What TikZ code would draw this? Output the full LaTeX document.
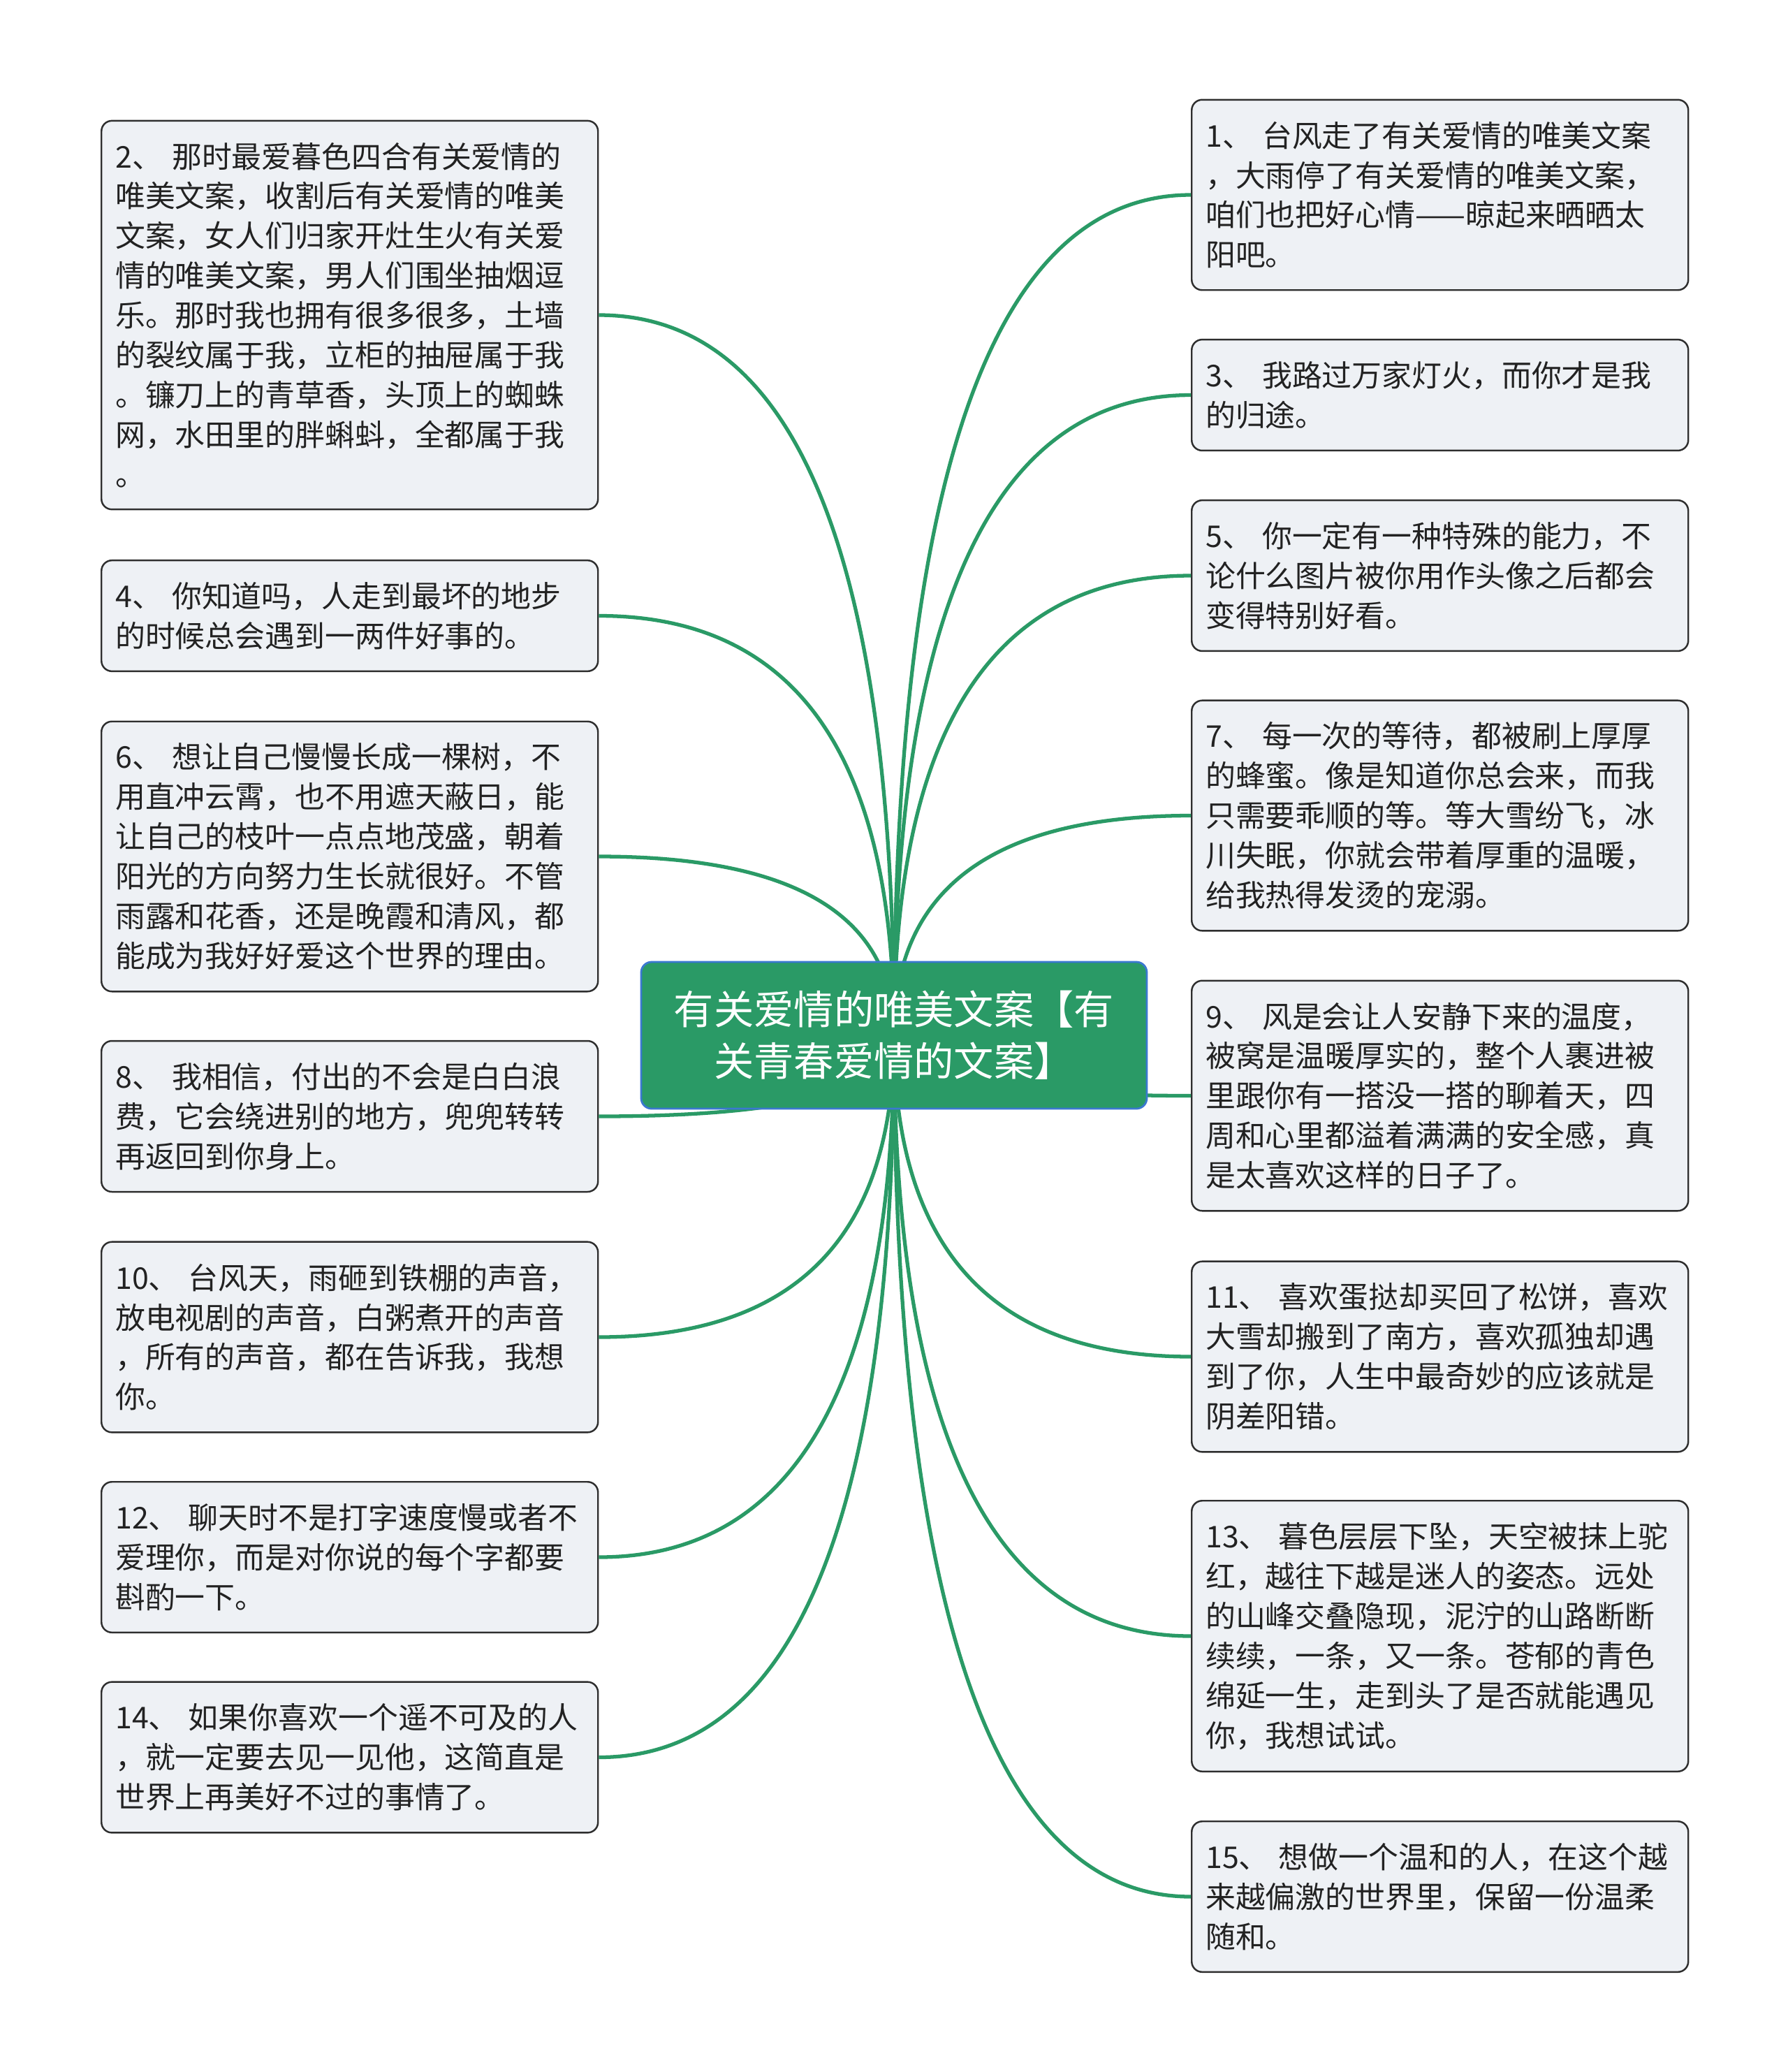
\documentclass[tikz,border=0pt]{standalone}
\usepackage{fontspec}
\setmainfont{Noto Sans CJK SC}
\usepackage{tikz}
\usetikzlibrary{calc}

\definecolor{branchgreen}{HTML}{2A9A66}
\definecolor{rootblue}{HTML}{3A78D0}
\definecolor{leafbg}{HTML}{EEF1F5}
\definecolor{leafline}{HTML}{2E2E2E}
\definecolor{textgray}{HTML}{222222}

\begin{document}
\begin{tikzpicture}[
root/.style={draw=rootblue,fill=branchgreen,line width=0.8pt,rounded corners=0.15cm,text=white,align=center,text width=6.5cm,minimum width=7.24cm,minimum height=2.1cm,font=\fontsize{16.3pt}{21pt}\selectfont},
leaf/.style={draw=leafline,fill=leafbg,line width=0.7pt,rounded corners=0.15cm,text=textgray,align=left,text width=6.71cm,inner xsep=0.2cm,inner ysep=0.31cm,anchor=west,font=\fontsize{12.2pt}{16.2pt}\selectfont},
branch/.style={draw=branchgreen,line width=1.5pt,to path={.. controls ($(\tikztostart)!2/3!(\tikztostart |- \tikztotarget)$) and ($(\tikztotarget)!2/3!(\tikztostart |- \tikztotarget)$) .. (\tikztotarget)}}
]
\useasboundingbox (0,0) rectangle (25.6,-29.66);

\node[leaf](n2) at (1.44,-4.51) {2、 那时最爱暮色四合有关爱情的\\唯美文案，收割后有关爱情的唯美\\文案，女人们归家开灶生火有关爱\\情的唯美文案，男人们围坐抽烟逗\\乐。那时我也拥有很多很多，土墙\\的裂纹属于我，立柜的抽屉属于我\\。镰刀上的青草香，头顶上的蜘蛛\\网，水田里的胖蝌蚪，全都属于我\\。};

\node[leaf](n4) at (1.44,-8.815) {4、 你知道吗，人走到最坏的地步\\的时候总会遇到一两件好事的。};

\node[leaf](n6) at (1.44,-12.26) {6、 想让自己慢慢长成一棵树，不\\用直冲云霄，也不用遮天蔽日，能\\让自己的枝叶一点点地茂盛，朝着\\阳光的方向努力生长就很好。不管\\雨露和花香，还是晚霞和清风，都\\能成为我好好爱这个世界的理由。};

\node[leaf](n8) at (1.44,-15.98) {8、 我相信，付出的不会是白白浪\\费，它会绕进别的地方，兜兜转转\\再返回到你身上。};

\node[leaf](n10) at (1.44,-19.14) {10、 台风天，雨砸到铁棚的声音，\\放电视剧的声音，白粥煮开的声音\\，所有的声音，都在告诉我，我想\\你。};

\node[leaf](n12) at (1.44,-22.29) {12、 聊天时不是打字速度慢或者不\\爱理你，而是对你说的每个字都要\\斟酌一下。};

\node[leaf](n14) at (1.44,-25.155) {14、 如果你喜欢一个遥不可及的人\\，就一定要去见一见他，这简直是\\世界上再美好不过的事情了。};

\node[leaf](n1) at (17.05,-2.79) {1、 台风走了有关爱情的唯美文案\\，大雨停了有关爱情的唯美文案，\\咱们也把好心情——晾起来晒晒太\\阳吧。};

\node[leaf](n3) at (17.05,-5.655) {3、 我路过万家灯火，而你才是我\\的归途。};

\node[leaf](n5) at (17.05,-8.24) {5、 你一定有一种特殊的能力，不\\论什么图片被你用作头像之后都会\\变得特别好看。};

\node[leaf](n7) at (17.05,-11.675) {7、 每一次的等待，都被刷上厚厚\\的蜂蜜。像是知道你总会来，而我\\只需要乖顺的等。等大雪纷飞，冰\\川失眠，你就会带着厚重的温暖，\\给我热得发烫的宠溺。};

\node[leaf](n9) at (17.05,-15.685) {9、 风是会让人安静下来的温度，\\被窝是温暖厚实的，整个人裹进被\\里跟你有一搭没一搭的聊着天，四\\周和心里都溢着满满的安全感，真\\是太喜欢这样的日子了。};

\node[leaf](n11) at (17.05,-19.42) {11、 喜欢蛋挞却买回了松饼，喜欢\\大雪却搬到了南方，喜欢孤独却遇\\到了你，人生中最奇妙的应该就是\\阴差阳错。};

\node[leaf](n13) at (17.05,-23.42) {13、 暮色层层下坠，天空被抹上驼\\红，越往下越是迷人的姿态。远处\\的山峰交叠隐现，泥泞的山路断断\\续续，一条，又一条。苍郁的青色\\绵延一生，走到头了是否就能遇见\\你，我想试试。};

\node[leaf](n15) at (17.05,-27.15) {15、 想做一个温和的人，在这个越\\来越偏激的世界里，保留一份温柔\\随和。};

\coordinate (c) at (12.8,-14.82);

\draw[branch] (c) to (n1.west);
\draw[branch] (c) to (n3.west);
\draw[branch] (c) to (n5.west);
\draw[branch] (c) to (n7.west);
\draw[branch] (c) to (n9.west);
\draw[branch] (c) to (n11.west);
\draw[branch] (c) to (n13.west);
\draw[branch] (c) to (n15.west);
\draw[branch] (c) to (n2.east);
\draw[branch] (c) to (n4.east);
\draw[branch] (c) to (n6.east);
\draw[branch] (c) to (n8.east);
\draw[branch] (c) to (n10.east);
\draw[branch] (c) to (n12.east);
\draw[branch] (c) to (n14.east);

\node[root](root) at (c) {有关爱情的唯美文案【有\\关青春爱情的文案】};
\end{tikzpicture}
\end{document}
